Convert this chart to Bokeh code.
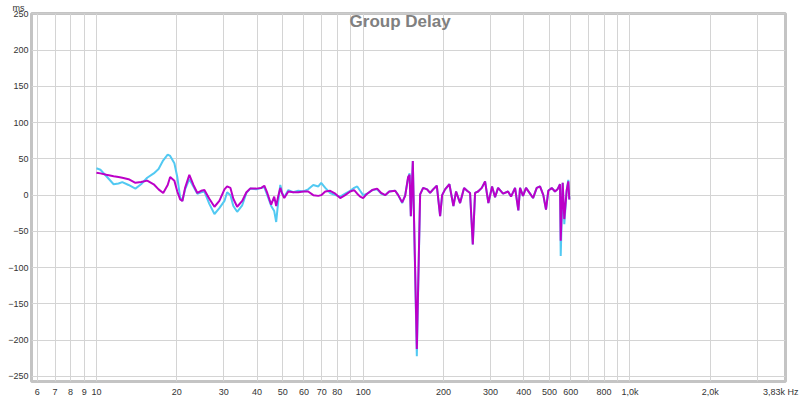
from bokeh.plotting import figure
from bokeh.models import FixedTicker, Label, ColumnDataSource, Title
from bokeh.embed import file_html
from bokeh.resources import INLINE

# ---- data ----
freq = [10.0, 10.35, 10.9, 11.6, 12.1, 12.5, 13.2, 14.0, 14.7, 15.5, 16.4, 17.1, 17.8, 18.5, 18.9,
        19.6, 20.1, 20.6, 21.0, 21.5, 22.3, 23.1, 23.9, 24.7, 25.4, 26.5, 27.7, 28.9, 30.2, 30.9,
        31.8, 32.6, 33.7, 35.2, 36.5, 37.7, 39.7, 41.5, 42.6, 43.7, 45.2, 46.4, 47.2, 48.0, 48.9,
        49.7, 50.6, 52.4, 54.7, 57.1, 59.6, 62.2, 65.0, 67.9, 69.6, 72.1, 75.2, 78.6, 82.0, 85.6,
        89.4, 92.5, 95.0, 97.4, 100.0, 103.5, 108.1, 112.8, 116.8, 120.9, 125.2, 131.8, 135.3,
        140.0, 143.7, 147.4, 149.3, 150.9, 153.5, 158.9, 163.5, 167.8, 173.6, 178.2, 182.9, 188.8,
        194.3, 197.7, 202.8, 210.5, 217.9, 223.0, 230.8, 238.9, 245.2, 251.6, 257.6, 262.7, 269.6,
        278.4, 286.4, 294.7, 304.2, 312.2, 320.4, 334.5, 349.2, 358.4, 371.0, 381.7, 387.3, 397.4,
        407.8, 422.2, 433.3, 447.3, 460.2, 473.5, 484.6, 494.3, 509.0, 523.7, 535.2, 546.9, 550.2,
        559.7, 567.5, 579.4, 587.5, 592.6]

delay_cyan = [37, 35, 26, 15, 16, 18, 14, 9, 15, 24, 30, 36, 48, 56, 54,
              44, 25, -3, -8, 8, 22, 12, 2, 4, 5, -12, -26, -18, -8, 4,
              0, -15, -23, -14, 3, 9, 8, 10, 11, 0, -15, -22, -37, -10, 14,
              3, -3, 7, 4, 6, 5, 8, 14, 12, 17, 10, 3, 0, -2, 2,
              6, 10, 12, 6, 0, 2, 7, 8, 2, 0, 5, 6, 0,
              -11, 0, 24, 30, -29, 47, -222, 1, 10, 8, 3, 8, 13,
              -29, 0, 8, 15, -15, 5, -11, 10, 6, 3, -68, 3, 5,
              10, 19, -11, 12, -3, 10, 2, 5, -2, 10, -21, 10, -1,
              10, 2, -4, 10, 12, 0, -20, 6, 10, 5, 8, 15, -84,
              17, -40, 7, 21, -6]

delay_magenta = [31, 30, 28, 26, 25, 24, 22, 17, 18, 20, 15, 8, 3, 14, 25,
                 20, 5, -6, -8, 10, 28, 14, 3, 6, 7, -5, -16, -8, 8, 12,
                 10, -5, -16, -8, 4, 9, 9, 10, 13, 3, -13, -2, -15, -2, 10,
                 2, -4, 5, 4, 4, 5, 5, 0, -1, 0, 5, 6, 2, -4, 0,
                 5, 7, 2, -2, -4, 2, 7, 9, 3, 0, 5, 6, 0,
                 -10, -1, 25, 28, -29, 47, -212, 1, 10, 8, 3, 8, 13,
                 -29, 0, 8, 15, -15, 5, -11, 10, 6, 3, -68, 3, 5,
                 10, 19, -11, 12, -3, 10, 2, 5, -2, 10, -21, 10, -1,
                 10, 2, -4, 10, 12, 0, -20, 6, 10, 5, 8, 15, -63,
                 17, -33, 7, 19, -6]

y_ticks = [-250, -200, -150, -100, -50, 0, 50, 100, 150, 200, 250]
x_grid = [6, 7, 8, 9, 10, 20, 30, 40, 50, 60, 70, 80, 90, 100, 200, 300, 400, 500,
          600, 700, 800, 900, 1000, 2000, 3000]
x_label_vals = [6, 7, 8, 9, 10, 20, 30, 40, 50, 60, 70, 80, 100, 200, 300, 400, 500, 600,
                800, 1000, 2000, 3677]
x_label_text = ["6", "7", "8", "9", "10", "20", "30", "40", "50", "60", "70", "80", "100",
                "200", "300", "400", "500", "600", "800", "1,0k", "2,0k", "3,83k Hz"]

FONT = "Liberation Sans"

p = figure(width=800, height=399, x_axis_type="log",
           x_range=(5.71, 3830), y_range=(-257, 250.5),
           output_backend="svg", toolbar_location=None,
           min_border_left=31, min_border_right=15, min_border_top=12, min_border_bottom=18)

p.background_fill_color = "white"
p.border_fill_color = "white"
p.outline_line_color = "#c4c4c4"
p.outline_line_width = 3

# unit label above the y axis
p.add_layout(Title(text="ms", align="left", offset=-19, standoff=1,
                   text_font=FONT, text_font_size="9px", text_font_style="normal",
                   text_color="#333333"), "above")

# grids
p.xgrid.ticker = FixedTicker(ticks=x_grid)
p.ygrid.ticker = FixedTicker(ticks=y_ticks)
p.xgrid.grid_line_color = "#d4d4d4"
p.ygrid.grid_line_color = "#d4d4d4"
p.xgrid.minor_grid_line_color = None

# axes
for ax in (p.xaxis[0], p.yaxis[0]):
    ax.axis_line_color = None
    ax.major_tick_line_color = None
    ax.minor_tick_line_color = None
    ax.major_tick_out = 0
    ax.major_tick_in = 0
    ax.minor_tick_out = 0
    ax.major_label_text_font = FONT
    ax.major_label_text_font_size = "9px"
    ax.major_label_text_color = "#333333"

p.xaxis[0].ticker = FixedTicker(ticks=x_label_vals)
p.xaxis[0].major_label_overrides = {v: t for v, t in zip(x_label_vals, x_label_text)}
p.xaxis[0].major_label_standoff = 5
p.yaxis[0].ticker = FixedTicker(ticks=y_ticks)
p.yaxis[0].major_label_standoff = 3

src = ColumnDataSource(dict(f=freq, c=delay_cyan, m=delay_magenta))
p.line("f", "c", source=src, line_color="#52c9f2", line_width=2)
p.line("f", "m", source=src, line_color="#bc00c8", line_width=2)

p.add_layout(Label(x=137.6, y=239, text="Group Delay", text_align="center",
                   text_baseline="middle", text_font=FONT, text_font_style="bold",
                   text_font_size="17px", text_color="#808080"))

open("out.html", "w").write(file_html(p, INLINE))
